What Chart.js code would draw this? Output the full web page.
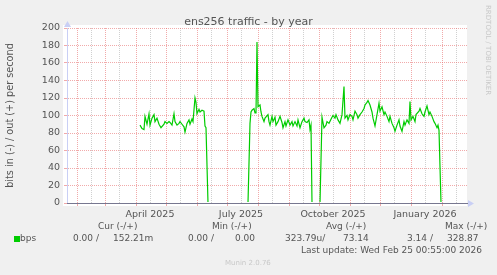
<!DOCTYPE html>
<html>
<head>
<meta charset="utf-8">
<title>ens256 traffic - by year</title>
<script src="https://cdn.jsdelivr.net/npm/chart.js@4.4.1/dist/chart.umd.min.js"></script>
<style>
  body { margin: 0; background: #f0f0f0; }
  #wrap { position: relative; width: 497px; height: 275px; overflow: hidden; }
  #wrap canvas { position: absolute; left: 0; top: 0; }
  .t { position: absolute; font-family: "DejaVu Sans"; font-size: 9px; line-height: 9px; color: #555; white-space: pre; }
  .sq { position: absolute; left: 14px; top: 236px; width: 6px; height: 6px; background: #00cc00; }
  .wm { position: absolute; left: 484px; top: 5px; font-family: "DejaVu Sans"; font-size: 7px; line-height: 8px; color: #c8c8c8; writing-mode: vertical-rl; white-space: pre; }
</style>
</head>
<body>
<div id="wrap">
  <canvas id="graf" width="497" height="275"></canvas>

  <div class="t" style="left:98px;top:222px">Cur (-/+)</div>
  <div class="t" style="left:212px;top:222px">Min (-/+)</div>
  <div class="t" style="left:326px;top:222px">Avg (-/+)</div>
  <div class="t" style="left:445px;top:222px">Max (-/+)</div>

  <div class="sq"></div>
  <div class="t" style="left:20px;top:234px">bps</div>
  <div class="t" style="left:73px;top:234px">0.00 /</div>
  <div class="t" style="left:113px;top:234px">152.21m</div>
  <div class="t" style="left:188px;top:234px">0.00 /</div>
  <div class="t" style="left:235px;top:234px">0.00</div>
  <div class="t" style="left:285px;top:234px">323.79u/</div>
  <div class="t" style="left:343px;top:234px">73.14</div>
  <div class="t" style="left:407px;top:234px">3.14 /</div>
  <div class="t" style="left:447px;top:234px">328.87</div>

  <div class="t" style="right:15px;top:246px">Last update: Wed Feb 25 00:55:00 2026</div>
  <div class="t" style="left:225px;top:259px;font-size:7px;color:#c8c8c8">Munin 2.0.76</div>
  <div class="wm">RRDTOOL / TOBI OETIKER</div>
</div>

<script>
// dias contados a partir de 1 jan 2025
const dias = [
  94, 96, 98, 99, 101, 103, 104, 106, 108, 109, 111, 113, 115, 118, 119, 121, 123, 124, 126, 128,
  129, 131, 133, 134, 136, 138, 139, 141, 143, 144, 146, 147, 149, 150, 151, 153, 154, 156, 158, 159,
  160, 162, 201,
  202, 204, 205, 206, 208, 209, 210, 211, 212, 214, 215, 216, 218, 219, 222, 223, 224, 226, 227, 229,
  230, 232, 234, 236, 237, 239, 240, 242, 244, 246, 247, 249, 251, 252, 254, 256, 258, 259, 261, 263,
  264, 265, 266, 274,
  276, 278, 280, 281, 283, 286, 287, 289, 290, 292, 294, 296, 298, 299, 301, 302, 304, 306, 307, 309,
  311, 312, 314, 316, 318, 319, 321, 322, 324, 326, 327, 329, 331, 333, 334, 336, 338, 339, 341, 343,
  344, 346, 348, 349, 351, 353, 354, 356, 358, 359, 361, 363, 364, 365, 367, 369, 370, 373, 374, 376,
  378, 379, 381, 383, 384, 386, 388, 389, 391, 392, 393, 395, 421
];

// bits/s de saida (+)
const saida = [
  89, 85, 84, 99, 90, 102, 89, 97, 101, 93, 97, 90, 86, 90, 93, 91, 93, 92, 89, 102,
  93, 89, 91, 93, 90, 87, 81, 91, 95, 90, 96, 93, 120, 115, 102, 107, 104, 106, 105, 88,
  86, 0, 0,
  0, 91, 104, 106, 108, 103, 103, 184, 110, 112, 104, 99, 93, 97, 101, 93, 89, 99, 93, 98,
  89, 93, 99, 92, 86, 93, 88, 95, 89, 93, 88, 93, 88, 95, 86, 93, 97, 93, 92, 95,
  84, 89, 0, 0,
  98, 86, 89, 93, 91, 98, 100, 97, 101, 95, 91, 101, 133, 97, 100, 95, 101, 99, 95, 105,
  101, 97, 101, 104, 108, 112, 115, 117, 112, 104, 97, 88, 101, 114, 105, 110, 101, 104, 99, 93,
  99, 91, 86, 82, 89, 95, 88, 82, 93, 89, 95, 91, 116, 95, 99, 93, 101, 105, 108, 102,
  99, 104, 111, 101, 104, 99, 93, 91, 86, 89, 83, 0, 0
];

// grade vertical: inicio de cada mes e meio do mes
const iniciosMes = [31, 59, 90, 120, 151, 181, 212, 243, 273, 304, 334, 365, 396];
const meiosMes = [45, 73, 104, 134, 165, 195, 226, 257, 287, 318, 348, 379, 410];
const diasRotulo = [104, 195, 287, 379];
const textosRotulo = ['April 2025', 'July 2025', 'October 2025', 'January 2026'];

const corMaior = 'rgba(230,100,100,0.55)';
const corMenor = '#d0d0d0';

Chart.defaults.font.family = '"DejaVu Sans"';
Chart.defaults.color = '#555';

const extras = {
  id: 'extras',
  beforeDraw(chart) {
    const { ctx, chartArea: a } = chart;
    ctx.save();
    ctx.fillStyle = '#ffffff';
    ctx.fillRect(a.left - 4, a.top - 3, a.right - a.left + 4, a.bottom - a.top + 6);
    ctx.restore();
  },
  afterDatasetsDraw(chart) {
    const { ctx, chartArea: a } = chart;
    ctx.save();
    // linha do zero por cima dos dados
    ctx.strokeStyle = '#777790';
    ctx.lineWidth = 1;
    ctx.beginPath();
    ctx.moveTo(a.left, a.bottom + 0.5);
    ctx.lineTo(a.right + 1, a.bottom + 0.5);
    ctx.stroke();
    // setas
    ctx.fillStyle = '#c9cff5';
    ctx.beginPath();
    ctx.moveTo(a.right + 1, a.bottom - 3);
    ctx.lineTo(a.right + 7, a.bottom + 0.5);
    ctx.lineTo(a.right + 1, a.bottom + 4);
    ctx.fill();
    ctx.beginPath();
    ctx.moveTo(a.left - 3, a.top - 1);
    ctx.lineTo(a.left + 0.5, a.top - 7);
    ctx.lineTo(a.left + 4, a.top - 1);
    ctx.fill();
    ctx.restore();
  }
};

const ctx = document.getElementById('graf').getContext('2d');
const grafico = new Chart(ctx, {
  type: 'line',
  data: {
    datasets: [{
      label: 'bps',
      data: dias.map((d, i) => ({ x: d, y: saida[i] })),
      borderColor: '#00cc00',
      borderWidth: 1.2,
      pointRadius: 0,
      tension: 0,
      fill: false,
      clip: { left: 0, top: 0, right: 0, bottom: -1 }
    }]
  },
  options: {
    responsive: false,
    animation: false,
    layout: { padding: 0 },
    plugins: {
      legend: { display: false },
      tooltip: { enabled: false },
      title: {
        display: true,
        text: 'ens256 traffic - by year',
        color: '#555',
        font: { size: 11, weight: 'normal', lineHeight: 1 },
        padding: { top: 17, bottom: 0 }
      }
    },
    scales: {
      x: {
        type: 'linear',
        min: 21,
        max: 421,
        afterFit: s => { s.height = 72; },
        afterBuildTicks: s => {
          s.ticks = iniciosMes.concat(meiosMes).sort((a, b) => a - b).map(v => ({ value: v }));
        },
        ticks: {
          autoSkip: false,
          maxRotation: 0,
          padding: 3,
          font: { size: 9.5 },
          color: '#555',
          callback: v => {
            const k = diasRotulo.indexOf(v);
            return k >= 0 ? textosRotulo[k] : '';
          }
        },
        grid: {
          color: c => iniciosMes.includes(c.tick.value) ? corMaior : corMenor,
          tickColor: c => iniciosMes.includes(c.tick.value) ? corMaior : 'rgba(0,0,0,0)',
          tickLength: 3,
          lineWidth: 1
        },
        border: { display: true, color: '#777790', dash: [1, 1] }
      },
      y: {
        min: 0,
        max: 200,
        afterFit: s => { s.width = 67; },
        ticks: {
          stepSize: 10,
          padding: 4,
          font: { size: 9.5 },
          color: '#555',
          callback: v => (v % 20 === 0 ? v : '')
        },
        grid: {
          color: c => (c.tick.value % 20 === 0 ? corMaior : corMenor),
          tickColor: c => (c.tick.value % 20 === 0 ? corMaior : corMenor),
          tickLength: 3,
          lineWidth: 1
        },
        border: { display: true, color: '#c9cff5', dash: [1, 1] },
        title: {
          display: true,
          text: 'bits in (-) / out (+) per second',
          color: '#555',
          font: { size: 9.7 },
          padding: { top: 5, bottom: 0 }
        }
      },
      // espaco vazio a direita (area da marca d'agua)
      margemDireita: {
        position: 'right',
        display: true,
        min: 0,
        max: 1,
        afterFit: s => { s.width = 30; },
        ticks: { display: false },
        grid: { display: false, drawTicks: false },
        border: { display: false }
      }
    }
  },
  plugins: [extras]
});
</script>
</body>
</html>
